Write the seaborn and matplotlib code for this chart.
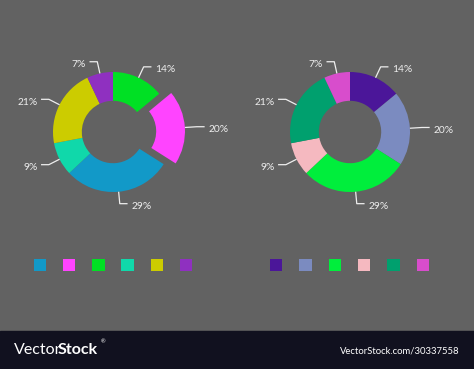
import numpy as np
import matplotlib
matplotlib.use("Agg")
import matplotlib.pyplot as plt
import seaborn as sns
import pandas as pd

# ============= DATA =============
shares = [14, 20, 29, 9, 21, 7]
share_labels = ["14%", "20%", "29%", "9%", "21%", "7%"]

left_colors = ["#00e024", "#ff44ff", "#1299c8", "#10d8aa", "#cccc00", "#8f30c0"]
right_colors = ["#4b1699", "#7b8bc0", "#00ee3c", "#f5b9c0", "#00a06e", "#d84dcc"]
left_explode = [0, 0.2, 0, 0, 0, 0]
right_explode = [0, 0, 0, 0, 0, 0]

# legend squares order as shown under each donut
left_legend = ["#1299c8", "#ff44ff", "#00e024", "#10d8aa", "#cccc00", "#8f30c0"]
right_legend = ["#4b1699", "#7b8bc0", "#00ee3c", "#f5b9c0", "#00a06e", "#d84dcc"]

BG = "#626262"
FG = "#eeeeee"

sns.set_style("dark", {"axes.facecolor": BG, "figure.facecolor": BG})
plt.rcParams["font.family"] = ["Lato", "DejaVu Sans"]

W, H = 474, 369
fig = plt.figure(figsize=(W / 100, H / 100), dpi=100)
fig.patch.set_facecolor(BG)

R_PX = 60
LIM = 1.8


def add_donut(cx, cy, colors, explode):
    size = 2 * LIM * R_PX
    ax = fig.add_axes([(cx - size / 2) / W, (H - cy - size / 2) / H, size / W, size / H])
    ax.pie(shares, colors=colors, startangle=90, counterclock=False, explode=explode,
           radius=1, wedgeprops=dict(width=0.48, edgecolor="none"))
    total = sum(shares)
    cum = 0
    for val, lab, ex in zip(shares, share_labels, explode):
        mid = np.deg2rad(90 - 360 * (cum + val / 2) / total)
        cum += val
        ox, oy = ex * np.cos(mid), ex * np.sin(mid)
        x0, y0 = ox + np.cos(mid), oy + np.sin(mid)
        x1, y1 = ox + 1.2 * np.cos(mid), oy + 1.2 * np.sin(mid)
        side = 1 if np.cos(mid) >= 0 else -1
        x2 = x1 + side * 0.13
        ax.plot([x0, x1, x2], [y0, y1, y1], color=FG, lw=0.9, solid_capstyle="butt")
        ax.text(x2 + side * 0.06, y1 - 0.05, lab, color=FG, fontsize=7.4,
                ha="left" if side > 0 else "right", va="center")
    ax.set_xlim(-LIM, LIM)
    ax.set_ylim(-LIM, LIM)
    ax.set_aspect("equal")
    ax.axis("off")
    return ax


add_donut(113, 132, left_colors, left_explode)
add_donut(350, 132, right_colors, right_explode)

# legend squares
lax = fig.add_axes([0, 0, 1, 1])
lax.set_xlim(0, W)
lax.set_ylim(H, 0)
lax.axis("off")
sq = pd.DataFrame({
    "x": [40 + 29.2 * i for i in range(6)] + [276 + 29.4 * i for i in range(6)],
    "y": [265] * 12,
    "c": left_legend + right_legend,
})
sns.scatterplot(data=sq, x="x", y="y", hue="c", palette=dict(zip(sq["c"], sq["c"])),
                marker="s", s=78, linewidth=0, legend=False, ax=lax)

# watermark bar
lax.add_patch(plt.Rectangle((0, 331), W, 38, color="#11111f", zorder=5))
lax.text(14, 350, "Vector", color="#ffffff", fontsize=11.5, fontweight="normal",
         va="center", ha="left", zorder=6)
lax.text(58, 350, "Stock", color="#ffffff", fontsize=11.5, fontweight="bold",
         va="center", ha="left", zorder=6)
lax.text(101, 342, "®", color="#ffffff", fontsize=4, va="center", ha="left", zorder=6)
lax.text(460, 351, "VectorStock.com/30337558", color="#ffffff", fontsize=6.8,
         va="center", ha="right", zorder=6)

fig.savefig("out.png", dpi=100, facecolor=BG)
